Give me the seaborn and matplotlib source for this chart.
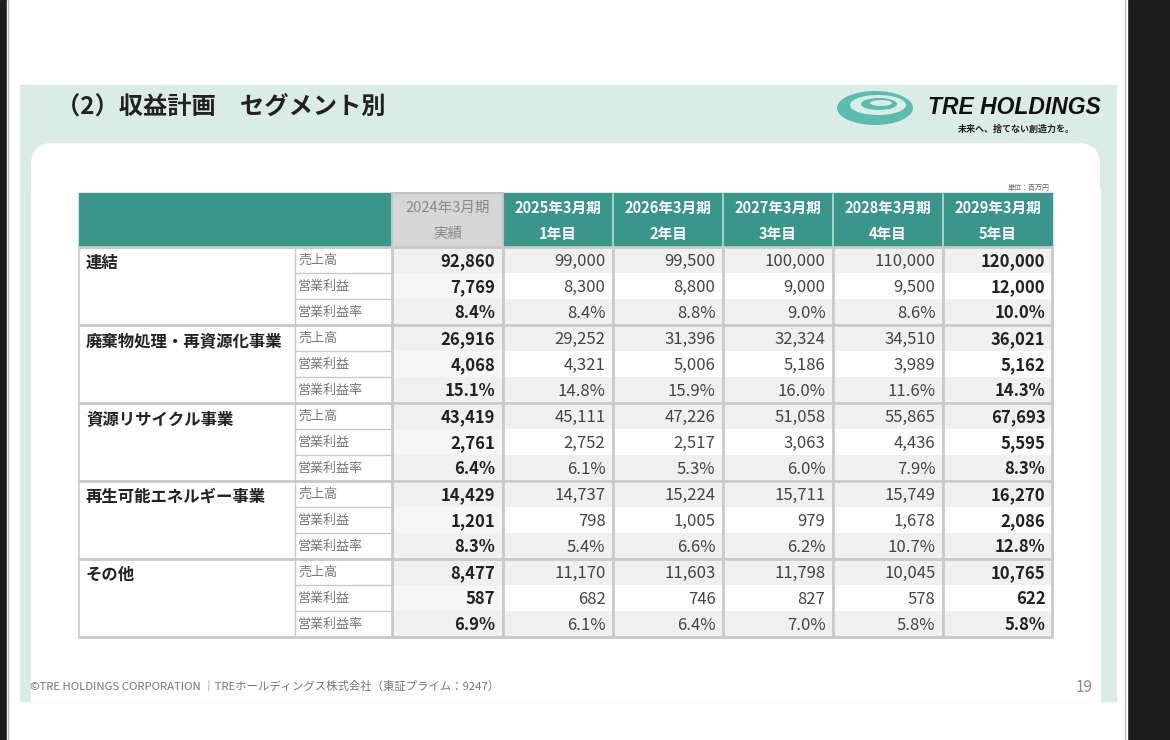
import matplotlib
matplotlib.use("Agg")
import matplotlib.pyplot as plt
from matplotlib.patches import Rectangle, FancyBboxPatch, Ellipse
from matplotlib.colors import ListedColormap
import numpy as np
import seaborn as sns

sns.set_theme(style="white")
plt.rcParams['font.family'] = ['Noto Sans CJK JP', 'DejaVu Sans']

# ---------------- data ----------------
title = "（2）収益計画　セグメント別"
years = ["2024年3月期", "2025年3月期", "2026年3月期", "2027年3月期", "2028年3月期", "2029年3月期"]
year_sub = ["実績", "1年目", "2年目", "3年目", "4年目", "5年目"]
segments = ["連結", "廃棄物処理・再資源化事業", "資源リサイクル事業", "再生可能エネルギー事業", "その他"]
metrics = ["売上高", "営業利益", "営業利益率"]

renketsu_sales = [92860, 99000, 99500, 100000, 110000, 120000]
renketsu_op = [7769, 8300, 8800, 9000, 9500, 12000]
renketsu_margin = [8.4, 8.4, 8.8, 9.0, 8.6, 10.0]

haiki_sales = [26916, 29252, 31396, 32324, 34510, 36021]
haiki_op = [4068, 4321, 5006, 5186, 3989, 5162]
haiki_margin = [15.1, 14.8, 15.9, 16.0, 11.6, 14.3]

shigen_sales = [43419, 45111, 47226, 51058, 55865, 67693]
shigen_op = [2761, 2752, 2517, 3063, 4436, 5595]
shigen_margin = [6.4, 6.1, 5.3, 6.0, 7.9, 8.3]

saisei_sales = [14429, 14737, 15224, 15711, 15749, 16270]
saisei_op = [1201, 798, 1005, 979, 1678, 2086]
saisei_margin = [8.3, 5.4, 6.6, 6.2, 10.7, 12.8]

sonota_sales = [8477, 11170, 11603, 11798, 10045, 10765]
sonota_op = [587, 682, 746, 827, 578, 622]
sonota_margin = [6.9, 6.1, 6.4, 7.0, 5.8, 5.8]

unit_label = "単位：百万円"
footer = "©TRE HOLDINGS CORPORATION ｜TREホールディングス株式会社（東証プライム：9247）"
page_no = "19"
brand = "TRE HOLDINGS"
tagline = "未来へ、捨てない創造力を。"

seg_rows = [
    (renketsu_sales, renketsu_op, renketsu_margin),
    (haiki_sales, haiki_op, haiki_margin),
    (shigen_sales, shigen_op, shigen_margin),
    (saisei_sales, saisei_op, saisei_margin),
    (sonota_sales, sonota_op, sonota_margin),
]

# ---------------- layout ----------------
W, H = 1170, 740
fig = plt.figure(figsize=(W / 100, H / 100), dpi=100)
ax = fig.add_axes([0, 0, 1, 1])
ax.set_xlim(0, W)
ax.set_ylim(H, 0)
ax.axis("off")

TEAL = "#3a968b"
MINT = "#d9ede6"
GRID = "#c9c9c9"

# background / slide frame
ax.add_patch(Rectangle((0, 0), W, H, color="#1c1c1c", zorder=0))
ax.add_patch(Rectangle((7, 0), 1120, H, color="#ffffff", zorder=0.5))
ax.plot([1125, 1125], [0, H], color="#bbbbbb", lw=1, zorder=0.6)
ax.plot([8, 8], [0, H], color="#bbbbbb", lw=1, zorder=0.6)
ax.add_patch(Rectangle((20, 85), 1096, 616, color=MINT, zorder=1))
ax.add_patch(Rectangle((31, 190), 1069, 511, color="white", zorder=1.6))
ax.add_patch(FancyBboxPatch((31, 143), 1069, 200, boxstyle="round,pad=0,rounding_size=22",
                            facecolor="white", edgecolor="none", zorder=1.55))

# title
ax.text(56, 107, title, fontsize=17.5, fontweight="bold", color="#222222", va="center", ha="left", zorder=5)

# logo
ax.add_patch(Ellipse((875, 108), 76, 34, facecolor="#5cbcb0", edgecolor="none", zorder=5))
ax.add_patch(Ellipse((878, 105), 56, 20, facecolor=MINT, edgecolor="none", zorder=5.1))
ax.add_patch(Ellipse((879, 104), 36, 12, facecolor="#5cbcb0", edgecolor="none", zorder=5.2))
ax.add_patch(Ellipse((881, 103), 22, 6, facecolor=MINT, edgecolor="none", zorder=5.3))
ax.text(1101, 107, brand, fontsize=16.5, fontweight="bold", fontstyle="italic", color="#111111",
        ha="right", va="center", family=["Liberation Sans", "DejaVu Sans"], zorder=5)
ax.text(1075, 129, tagline, fontsize=6.5, fontweight="bold", color="#222222", ha="right", va="center", zorder=5)

# footer
ax.text(30, 686, footer, fontsize=8.2, color="#777777", ha="left", va="center", zorder=5)
ax.text(1093, 688, page_no, fontsize=11, color="#888888", ha="right", va="center", zorder=5)
ax.text(1050, 188, unit_label, fontsize=5, color="#666666", ha="right", va="center", zorder=5)

# table geometry
col_edges = [79, 295, 392, 503, 613, 723, 833, 943, 1052]
head_top, head_bot = 193, 247
row_h = 26.0
n_rows = 15
tab_bot = head_bot + n_rows * row_h

# header
ax.add_patch(Rectangle((col_edges[0], head_top), col_edges[-1] - col_edges[0], head_bot - head_top,
                       color=TEAL, zorder=3))
ax.add_patch(Rectangle((col_edges[2], head_top), col_edges[3] - col_edges[2], head_bot - head_top,
                       facecolor="#d6d6d6", edgecolor="#c4c4c4", lw=1.5, zorder=3.2))
for k in range(len(years)):
    cx = (col_edges[k + 2] + col_edges[k + 3]) / 2
    c = "#8a8a8a" if k == 0 else "white"
    fw = "normal" if k == 0 else "bold"
    ax.text(cx, 208, years[k], fontsize=10.5, color=c, fontweight=fw, ha="center", va="center", zorder=4)
    ax.text(cx, 234, year_sub[k], fontsize=10.5, color=c, fontweight=fw, ha="center", va="center", zorder=4)
for x in col_edges[4:-1]:
    ax.plot([x, x], [head_top + 1, head_bot - 1], color="#b9ddd7", lw=1.2, zorder=3.5)

# value area as seaborn heatmap (stripe pattern)
stripe = np.array([[0 if (r % 3) != 1 else 1 for _ in range(6)] for r in range(n_rows)], dtype=float)
stripe[:, 0] = np.where(stripe[:, 0] == 1, 0.5, 0)
hax = fig.add_axes([col_edges[2] / W, 1 - tab_bot / H, (col_edges[-1] - col_edges[2]) / W,
                    (tab_bot - head_bot) / H])
sns.heatmap(stripe, ax=hax, cmap=ListedColormap(["#f0f0f0", "#f6f6f6", "#ffffff"]), vmin=0, vmax=1,
            cbar=False, linewidths=0, xticklabels=False, yticklabels=False)
hax.set_zorder(2)
ax.set_zorder(1)
ax.patch.set_visible(False)

ov = fig.add_axes([0, 0, 1, 1])
ov.set_xlim(0, W)
ov.set_ylim(H, 0)
ov.axis("off")
ov.set_zorder(3)
ov.patch.set_visible(False)

# values
for g, rows in enumerate(seg_rows):
    for m, vals in enumerate(rows):
        r = g * 3 + m
        for k, v in enumerate(vals):
            s = f"{v:.1f}%" if m == 2 else f"{v:,}"
            bold = k in (0, 5)
            col = "#222222" if bold else "#444444"
            hax.text(k + 0.94, r + 0.55, s, fontsize=12, fontweight="bold" if bold else "normal",
                     color=col, ha="right", va="center", family=["Noto Sans CJK JP", "DejaVu Sans"])

# labels
for g, name in enumerate(segments):
    y0 = head_bot + g * 3 * row_h
    ov.text(col_edges[0] + 7, y0 + 16, name, fontsize=11.8, fontweight="bold", color="#222222",
            ha="left", va="center")
    for m, met in enumerate(metrics):
        ov.text(col_edges[1] + 3, y0 + m * row_h + 13, met, fontsize=9.4, color="#777777",
                ha="left", va="center")

# grid lines
for r in range(n_rows + 1):
    y = head_bot + r * row_h
    if r % 3 == 0:
        ov.plot([col_edges[0], col_edges[-1]], [y, y], color=GRID, lw=2, zorder=4)
    else:
        ov.plot([col_edges[1], col_edges[2]], [y, y], color=GRID, lw=1, zorder=4)
for x in col_edges[1:]:
    ov.plot([x, x], [head_bot, tab_bot], color=GRID, lw=2 if x >= col_edges[2] else 1, zorder=4)
ov.plot([col_edges[0], col_edges[0]], [head_bot, tab_bot], color=GRID, lw=1.2, zorder=4)

fig.savefig("out.png", dpi=100)
